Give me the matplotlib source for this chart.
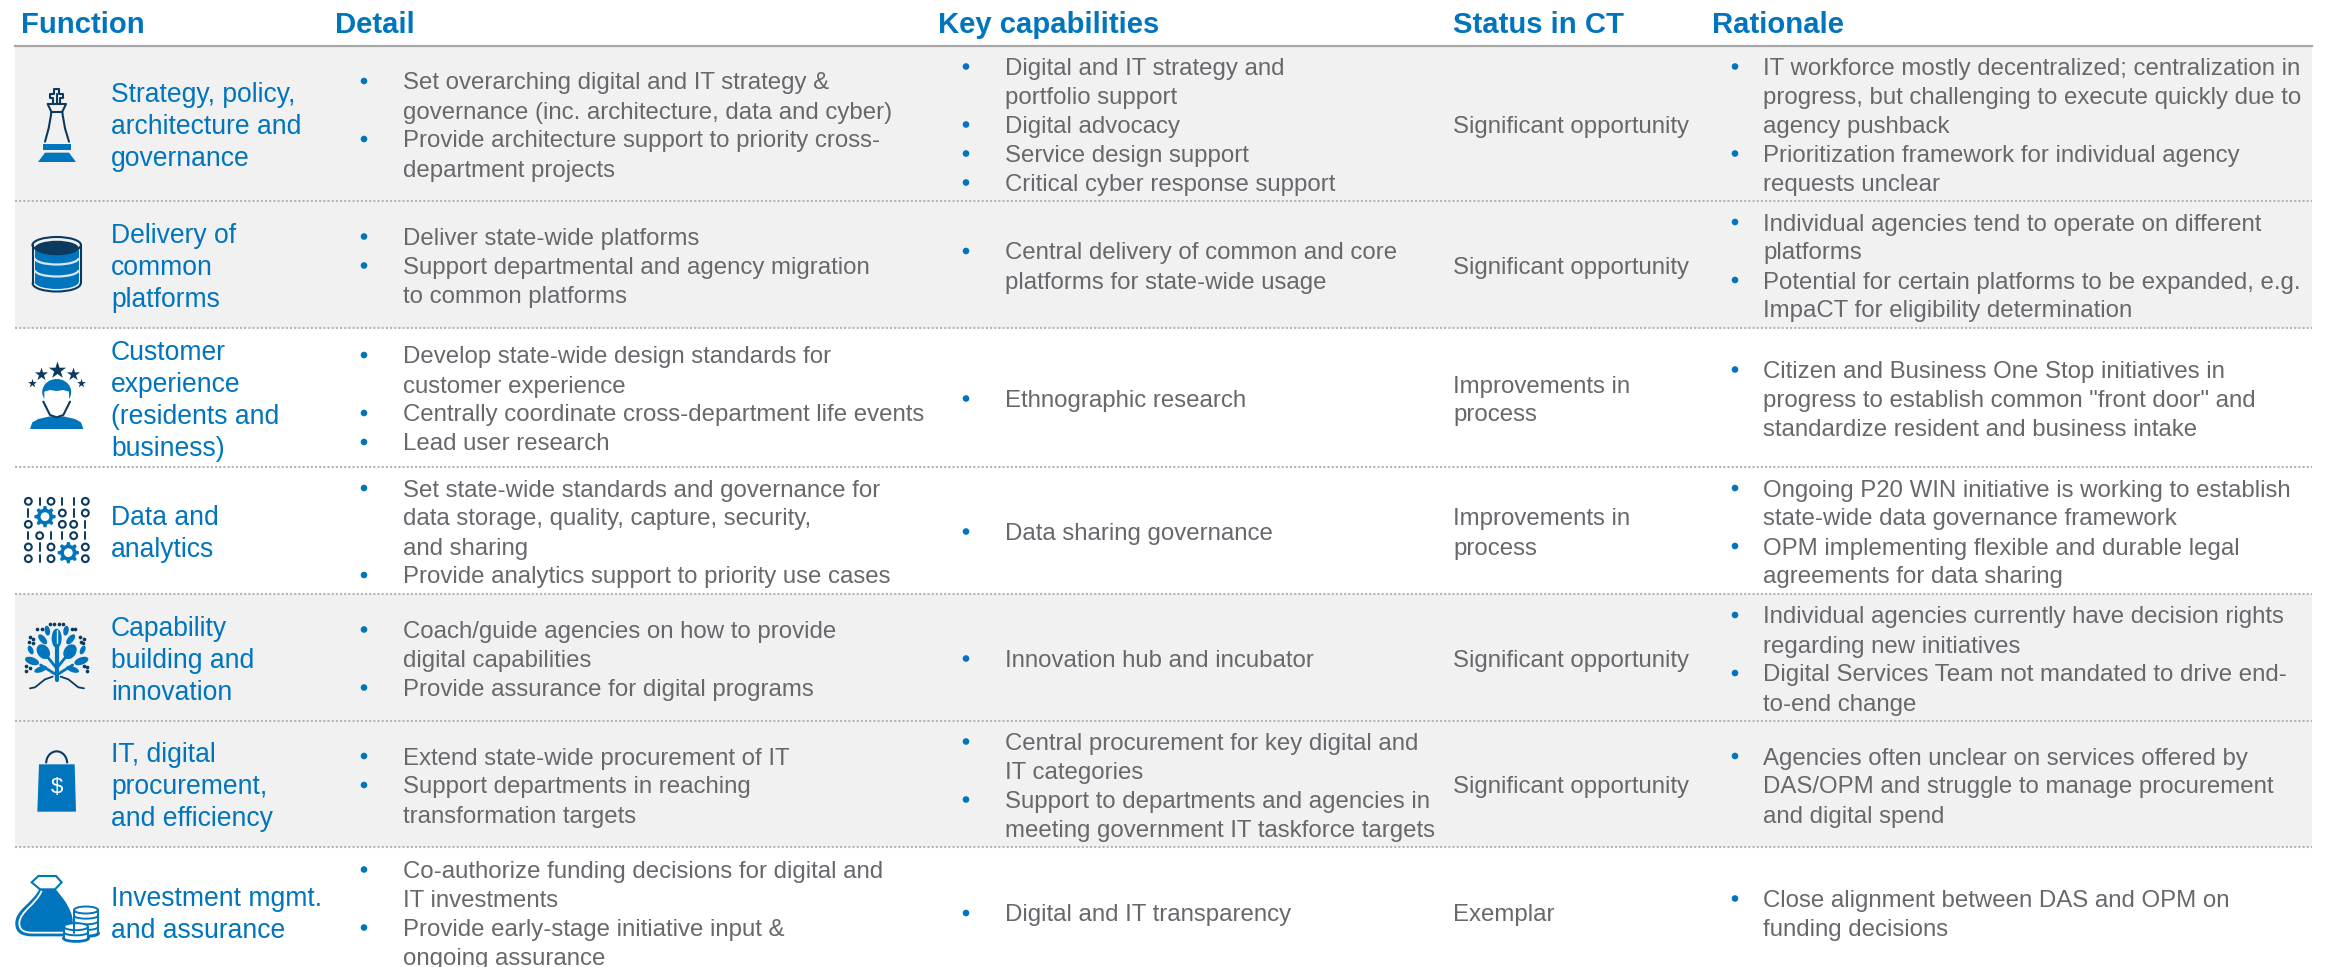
import numpy as np
import matplotlib
matplotlib.use("Agg")
import matplotlib.pyplot as plt
from matplotlib.patches import Rectangle, Circle, Ellipse, Polygon, Arc, PathPatch
from matplotlib.path import Path

plt.rcParams["font.family"] = ["Liberation Sans", "DejaVu Sans"]

# Table content
headers = ["Function", "Detail", "Key capabilities", "Status in CT", "Rationale"]

functions = [
    ["Strategy, policy,", "architecture and", "governance"],
    ["Delivery of", "common", "platforms"],
    ["Customer", "experience", "(residents and", "business)"],
    ["Data and", "analytics"],
    ["Capability", "building and", "innovation"],
    ["IT, digital", "procurement,", "and efficiency"],
    ["Investment mgmt.", "and assurance"],
]

details = [
    [["Set overarching digital and IT strategy &", "governance (inc. architecture, data and cyber)"],
     ["Provide architecture support to priority cross-", "department projects"]],
    [["Deliver state-wide platforms"],
     ["Support departmental and agency migration", "to common platforms"]],
    [["Develop state-wide design standards for", "customer experience"],
     ["Centrally coordinate cross-department life events"],
     ["Lead user research"]],
    [["Set state-wide standards and governance for", "data storage, quality, capture, security,", "and sharing"],
     ["Provide analytics support to priority use cases"]],
    [["Coach/guide agencies on how to provide", "digital capabilities"],
     ["Provide assurance for digital programs"]],
    [["Extend state-wide procurement of IT"],
     ["Support departments in reaching", "transformation targets"]],
    [["Co-authorize funding decisions for digital and", "IT investments"],
     ["Provide early-stage initiative input &", "ongoing assurance"]],
]

capabilities = [
    [["Digital and IT strategy and", "portfolio support"], ["Digital advocacy"],
     ["Service design support"], ["Critical cyber response support"]],
    [["Central delivery of common and core", "platforms for state-wide usage"]],
    [["Ethnographic research"]],
    [["Data sharing governance"]],
    [["Innovation hub and incubator"]],
    [["Central procurement for key digital and", "IT categories"],
     ["Support to departments and agencies in", "meeting government IT taskforce targets"]],
    [["Digital and IT transparency"]],
]

status = [
    ["Significant opportunity"],
    ["Significant opportunity"],
    ["Improvements in", "process"],
    ["Improvements in", "process"],
    ["Significant opportunity"],
    ["Significant opportunity"],
    ["Exemplar"],
]

rationale = [
    [["IT workforce mostly decentralized; centralization in", "progress, but challenging to execute quickly due to", "agency pushback"],
     ["Prioritization framework for individual agency", "requests unclear"]],
    [["Individual agencies tend to operate on different", "platforms"],
     ["Potential for certain platforms to be expanded, e.g.", "ImpaCT for eligibility determination"]],
    [["Citizen and Business One Stop initiatives in", "progress to establish common \"front door\" and", "standardize resident and business intake"]],
    [["Ongoing P20 WIN initiative is working to establish", "state-wide data governance framework"],
     ["OPM implementing flexible and durable legal", "agreements for data sharing"]],
    [["Individual agencies currently have decision rights", "regarding new initiatives"],
     ["Digital Services Team not mandated to drive end-", "to-end change"]],
    [["Agencies often unclear on services offered by", "DAS/OPM and struggle to manage procurement", "and digital spend"]],
    [["Close alignment between DAS and OPM on", "funding decisions"]],
]

row_edges = [46, 201, 328, 467, 594, 721, 847, 977]
shaded_rows = [0, 1, 4, 5]

BLUE = "#0075BE"
NAVY = "#0B3A5E"
GREY = "#66686C"
BAND = "#F1F1F1"

fig = plt.figure(figsize=(23.3, 9.67), dpi=100)
ax = fig.add_axes([0, 0, 1, 1])
ax.set_xlim(0, 2330)
ax.set_ylim(967, 0)
ax.axis("off")

for r in shaded_rows:
    ax.add_patch(Rectangle((15, row_edges[r]), 2297, row_edges[r + 1] - row_edges[r], fc=BAND, ec="none"))
ax.plot([15, 2312], [45.5, 45.5], color="#A6A6A6", lw=1.6)
for y in row_edges[1:-1]:
    ax.plot([15, 2312], [y, y], color="#B5B5B5", lw=1.5, ls=(0, (1, 1)))

for x, h in zip([21, 335, 938, 1453, 1712], headers):
    ax.text(x, 33, h, color=BLUE, fontsize=21.1, fontweight="bold")


def draw_lines(x, lines, mid, pitch, size, color):
    for i, s in enumerate(lines):
        y = mid + (i - (len(lines) - 1) / 2) * pitch + 8.5
        ax.text(x, y, s, color=color, fontsize=size)


def draw_bullets(bx, tx, paras, mid):
    n = sum(len(p) for p in paras)
    i = 0
    for p in paras:
        y0 = mid + (i - (n - 1) / 2) * 29
        ax.add_patch(Circle((bx, y0), 3.3, fc=BLUE, ec="none"))
        for s in p:
            y = mid + (i - (n - 1) / 2) * 29 + 8.5
            ax.text(tx, y, s, color=GREY, fontsize=17.3)
            i += 1


for r in range(7):
    mid = (row_edges[r] + row_edges[r + 1]) / 2 + 1
    draw_lines(111, functions[r], mid + 1, 32, 19.1, BLUE)
    draw_bullets(364, 403, details[r], mid)
    draw_bullets(966, 1005, capabilities[r], mid)
    draw_lines(1453, status[r], mid, 29, 17.3, GREY)
    draw_bullets(1735, 1763, rationale[r], mid)


def pts(coords, ox, oy):
    return [(ox + x / 3, oy + y / 3) for x, y in coords]


def poly(coords, ox=0, oy=0, fc=BLUE, ec="none", lw=0, closed=True):
    ax.add_patch(Polygon(pts(coords, ox, oy), closed=closed, fc=fc, ec=ec, lw=lw))


def stroke(coords, ox=0, oy=0, color=NAVY, lw=1.5):
    p = pts(coords, ox, oy)
    ax.plot([a for a, b in p], [b for a, b in p], color=color, lw=lw, solid_capstyle="round")


# king
poly([(114, 486), (228, 486), (207, 458), (135, 458)])
poly([(128, 432), (214, 432), (214, 450), (128, 450)])
stroke([(135, 425), (146, 385), (153, 345), (154, 335), (143, 312), (198, 312), (187, 335), (188, 345), (195, 385), (207, 425)])
stroke([(154, 335), (187, 335)])
stroke([(160, 308), (160, 295), (150, 295), (150, 282), (163, 282), (163, 268), (177, 268), (177, 282), (190, 282), (190, 295), (180, 295), (180, 308)])
stroke([(170, 282), (170, 308)])

# database
ax.add_patch(Ellipse((56.7, 283.5), 48, 16, fc="none", ec=NAVY, lw=1.5))
ax.add_patch(Rectangle((32.5, 245), 48.5, 38, fc=BAND, ec="none"))
stroke([(98, 735), (98, 850)])
stroke([(242, 735), (242, 850)])
ax.add_patch(Ellipse((56.7, 245), 48.5, 16, fc=BAND, ec=NAVY, lw=1.5))
ax.add_patch(Ellipse((56.7, 282), 44, 14, fc=BLUE, ec="none"))
ax.add_patch(Rectangle((34.7, 249), 44, 33, fc=BLUE, ec="none"))
for y in (258, 270):
    ax.add_patch(Arc((56.7, y), 44, 13, theta1=0, theta2=180, color="#DCE6EE", lw=1.6))
ax.add_patch(Ellipse((56.7, 248), 44, 14.5, fc=NAVY, ec="none"))

# person with stars
star_x = [170, 122, 218, 96, 244]
star_y = [150, 162, 162, 188, 188]
star_s = [170, 100, 100, 45, 45]
for x, y, s in zip(star_x, star_y, star_s):
    ax.scatter(x / 3, 320 + y / 3, s=s, marker="*", color=NAVY, linewidths=0)
poly([(90, 327), (97, 307), (115, 297), (150, 289), (170, 293), (190, 289), (225, 297), (243, 307), (250, 327)], 0, 320)
ax.add_patch(Ellipse((56.7, 320 + 72), 29, 26, fc=BLUE, ec="none"))
poly([(133, 215), (150, 210), (170, 213), (190, 210), (207, 215), (207, 250), (195, 275), (170, 290), (145, 275), (133, 250)], 0, 320, fc="white")
stroke([(130, 245), (150, 285), (170, 292), (190, 285), (210, 245)], 0, 320)

# data grid
grid_x = [85, 119, 153, 187, 221, 256]
grid_y = [544, 579, 613, 647, 681, 716]
grid = ["o|o||o", "|  o|o", "o  oo|", "|o||o|", "o|o  o", "o|o  o"]
for row, gy in zip(grid, grid_y):
    for ch, gx in zip(row, grid_x):
        if ch == "o":
            ax.add_patch(Circle((gx / 3, 320 + gy / 3), 3.4, fc="none", ec=NAVY, lw=1.5))
        elif ch == "|":
            stroke([(gx, gy - 11), (gx, gy + 11)], 0, 320, lw=1.4)
for gx, gy in [(135, 590), (205, 698)]:
    ang = np.linspace(0, 2 * np.pi, 48, endpoint=False)
    rad = 28 + 4 * np.sign(np.cos(8 * ang))
    poly(list(zip(gx + rad * np.cos(ang), gy + rad * np.sin(ang))), 0, 320)
    ax.add_patch(Circle((gx / 3, 320 + gy / 3), 4.4, fc="white", ec="none"))

# tree
leaves = [
    (140, 115, 30, 58, 0), (112, 92, 16, 30, -10), (168, 92, 16, 30, 10),
    (100, 155, 36, 48, -35), (180, 155, 36, 48, 35),
    (62, 150, 15, 28, -25), (218, 150, 15, 28, 25),
    (66, 183, 44, 22, 20), (214, 183, 44, 22, -20),
    (92, 208, 40, 17, -20), (188, 208, 40, 17, 20),
    (98, 118, 18, 36, -40), (182, 118, 18, 36, 40),
]
for x, y, w, h, a in leaves:
    ax.add_patch(Ellipse((10 + x / 3, 600 + y / 3), w / 3, h / 3, angle=a, fc=BLUE, ec="none"))
stroke([(140, 130), (140, 240)], 10, 600, color=BLUE, lw=3)
for a, b in [((140, 205), (100, 155)), ((140, 205), (180, 155)), ((140, 225), (92, 195)), ((140, 225), (188, 195))]:
    stroke([a, b], 10, 600, color=BLUE, lw=2)
stroke([(140, 130), (140, 90)], 10, 600, color=BAND, lw=1)
stroke([(60, 265), (75, 262), (90, 250), (105, 238), (128, 230)], 10, 600, lw=1.3)
stroke([(152, 230), (175, 238), (190, 250), (205, 262), (222, 265)], 10, 600, lw=1.3)
dot_x = [82, 95, 120, 132, 148, 160, 185, 196, 60, 70, 58, 68, 210, 222, 214, 220, 48, 60, 48, 222, 232, 232]
dot_y = [87, 87, 72, 72, 72, 72, 87, 87, 110, 118, 126, 130, 110, 118, 126, 130, 198, 205, 212, 198, 200, 212]
ax.scatter([10 + x / 3 for x in dot_x], [600 + y / 3 for y in dot_y], s=7, color=NAVY, linewidths=0)

# shopping bag
poly([(117, 373), (224, 373), (228, 515), (112, 515)], 0, 640)
ax.add_patch(Arc((170 / 3, 640 + 370 / 3), 21, 24, theta1=180, theta2=360, color=NAVY, lw=1.5))
ax.text(170 / 3, 640 + 458 / 3, "$", color="white", fontsize=16, ha="center")

# money bag
bag_v = [(120, 748), (100, 790), (48, 810), (48, 850), (48, 880), (70, 887), (100, 887), (190, 887), (225, 870), (225, 830), (190, 780), (165, 748), (120, 748)]
bag_c = [Path.MOVETO, Path.CURVE4, Path.CURVE4, Path.CURVE4, Path.CURVE4, Path.CURVE4, Path.CURVE4, Path.LINETO, Path.CURVE4, Path.CURVE4, Path.CURVE4, Path.LINETO, Path.CLOSEPOLY]
ax.add_patch(PathPatch(Path(pts(bag_v, 0, 640), bag_c), fc=BLUE, ec=BLUE, lw=1))
inner_v = [(125, 752), (110, 792), (58, 815), (58, 850), (58, 872), (74, 878), (100, 878), (190, 878)]
inner_c = [Path.MOVETO, Path.CURVE4, Path.CURVE4, Path.CURVE4, Path.CURVE4, Path.CURVE4, Path.CURVE4, Path.LINETO]
ax.add_patch(PathPatch(Path(pts(inner_v, 0, 640), inner_c), fc="none", ec="white", lw=1.3))
poly([(95, 727), (115, 708), (168, 708), (185, 727), (165, 748), (120, 748)], 0, 640, fc="white", ec=BLUE, lw=1.5)
for cx, top, bot, w in [(258, 810, 880, 24), (228, 860, 895, 24)]:
    ax.add_patch(Rectangle((cx / 3 - w / 2 - 1, 640 + top / 3), w + 2, (bot - top) / 3, fc="white", ec="none"))
    ax.add_patch(Ellipse((cx / 3, 640 + bot / 3), w + 2, 7, fc="white", ec=BLUE, lw=1.4))
    ax.add_patch(Rectangle((cx / 3 - w / 2, 640 + top / 3), w, (bot - top) / 3, fc="white", ec="none"))
    stroke([(cx - 36, top), (cx - 36, bot)], 0, 640, color=BLUE, lw=1.4)
    stroke([(cx + 36, top), (cx + 36, bot)], 0, 640, color=BLUE, lw=1.4)
    for y in np.arange(top, bot, 17):
        ax.add_patch(Arc((cx / 3, 640 + y / 3), w, 6, theta1=0, theta2=180, color=BLUE, lw=1.4))
    ax.add_patch(Ellipse((cx / 3, 640 + top / 3), w, 7, fc="white", ec=BLUE, lw=1.4))

fig.savefig("out.png", dpi=100)
